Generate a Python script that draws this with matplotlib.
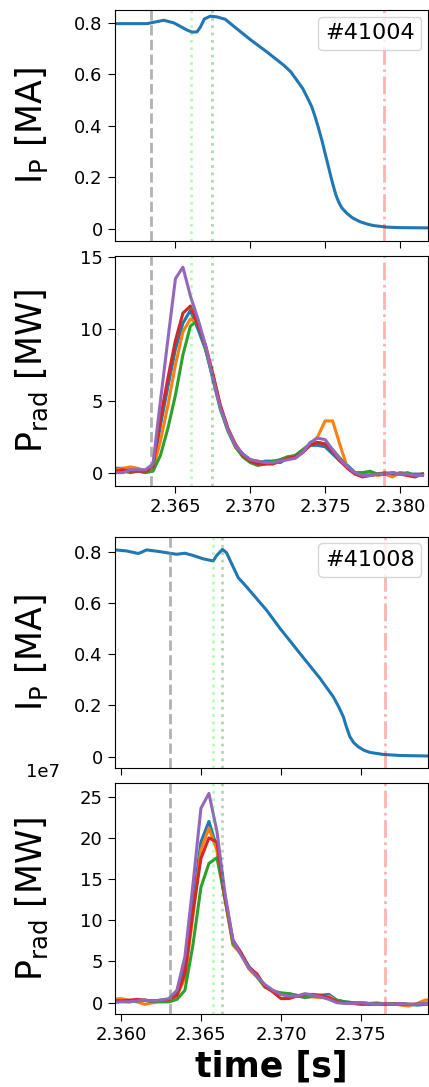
import numpy as np
import matplotlib
matplotlib.use('Agg')
from matplotlib import pyplot as plt
from matplotlib.lines import Line2D

plt.rcParams['font.family'] = ['DejaVu Sans']
plt.rcParams['mathtext.fontset'] = 'dejavusans'
plt.rcParams['mathtext.default'] = 'regular'

# ---------------- shot 41004 ----------------
ip_t_41004 = [2.36093, 2.36311, 2.36344, 2.36422, 2.36489, 2.36578, 2.36611, 2.36644,
              2.36667, 2.36693, 2.36733, 2.36778, 2.36833, 2.36889, 2.37000, 2.37111,
              2.37222, 2.37270, 2.37311, 2.37350, 2.37378, 2.37410, 2.37433, 2.37455,
              2.37478, 2.37500, 2.37522, 2.37540, 2.37556, 2.37572, 2.37589, 2.37610,
              2.37644, 2.37685, 2.37733, 2.37780, 2.37822, 2.37911, 2.38000, 2.38184]
ip_41004 = [0.797, 0.797, 0.801, 0.810, 0.800, 0.772, 0.764, 0.765,
            0.784, 0.815, 0.826, 0.823, 0.814, 0.787, 0.735, 0.687,
            0.636, 0.610, 0.577, 0.545, 0.513, 0.475, 0.435, 0.392,
            0.344, 0.292, 0.241, 0.198, 0.163, 0.131, 0.105, 0.082,
            0.060, 0.041, 0.027, 0.018, 0.012, 0.006, 0.004, 0.003]

prad_t0_41004 = 2.3610
prad_41004 = {
    'C0': [0.3, 0.3, 0.2, 0.2, 0.0, 0.3, 3.3, 6.0, 8.6, 10.4, 11.3, 10.0, 8.6, 6.6,
           4.6, 3.0, 1.9, 1.3, 0.9, 0.7, 0.8, 0.8, 0.7, 1.0, 1.1, 1.5, 1.9, 1.9,
           1.8, 1.3, 0.8, 0.5, 0.0, -0.1, -0.2, -0.1, -0.1, -0.2, 0.0, -0.1, -0.1, -0.1],
    'C1': [0.2, 0.3, 0.4, 0.3, 0.1, 0.2, 2.2, 4.7, 7.5, 9.8, 10.7, 10.4, 8.8, 6.8,
           4.6, 3.1, 1.8, 1.2, 0.9, 0.8, 0.7, 0.7, 0.9, 1.1, 1.0, 1.4, 2.0, 2.5,
           3.6, 3.6, 1.9, 0.3, -0.1, 0.0, 0.0, -0.2, -0.1, -0.3, 0.0, -0.1, -0.2, -0.1],
    'C2': [0.1, 0.1, 0.0, 0.1, 0.0, 0.1, 1.2, 3.1, 5.4, 8.2, 10.2, 10.6, 8.7, 6.5,
           4.4, 2.9, 1.8, 1.1, 0.7, 0.5, 0.6, 0.8, 0.9, 1.1, 1.2, 1.6, 2.0, 2.1,
           2.0, 1.6, 1.0, 0.4, 0.0, 0.0, 0.1, -0.1, 0.0, -0.1, -0.1, 0.0, -0.2, -0.1],
    'C3': [0.1, 0.2, 0.1, 0.1, 0.1, 0.4, 3.8, 6.6, 9.2, 11.1, 11.6, 10.3, 8.9, 6.9,
           4.7, 3.1, 2.0, 1.2, 0.8, 0.6, 0.6, 0.6, 0.8, 1.0, 1.1, 1.4, 1.9, 2.1,
           2.0, 1.5, 0.8, 0.3, -0.1, -0.3, -0.2, -0.1, -0.1, 0.0, -0.1, -0.2, -0.3, -0.1],
    'C4': [0.0, 0.0, 0.2, 0.2, 0.2, 0.6, 5.0, 9.3, 13.5, 14.3, 12.3, 10.7, 8.9, 6.6,
           4.5, 3.0, 1.9, 1.3, 0.9, 0.8, 0.7, 0.7, 0.8, 0.9, 1.0, 1.4, 2.1, 2.4,
           2.3, 1.6, 0.9, 0.4, 0.0, -0.2, -0.2, -0.1, -0.1, 0.0, -0.1, -0.1, -0.2, -0.2],
}
events_41004 = [2.3634, 2.36605, 2.36745, 2.37893]

# ---------------- shot 41008 ----------------
ip_t_41008 = [2.35963, 2.36035, 2.36108, 2.36129, 2.36160, 2.36223, 2.36306, 2.36348,
              2.36400, 2.36452, 2.36515, 2.36577, 2.36598, 2.36635, 2.36660, 2.36702,
              2.36733, 2.36785, 2.36910, 2.36994, 2.37119, 2.37244, 2.37327, 2.37360,
              2.37390, 2.37410, 2.37431, 2.37455, 2.37483, 2.37520, 2.37556, 2.37640,
              2.37744, 2.37917]
ip_41008 = [0.807, 0.803, 0.793, 0.798, 0.807, 0.802, 0.794, 0.790,
            0.794, 0.785, 0.772, 0.764, 0.785, 0.809, 0.796, 0.740,
            0.699, 0.663, 0.572, 0.501, 0.403, 0.306, 0.234, 0.196,
            0.156, 0.115, 0.078, 0.055, 0.039, 0.025, 0.017, 0.009,
            0.005, 0.003]

prad_t0_41008 = 2.3595
prad_41008 = {
    'C0': [0.2, 0.3, 0.2, 0.3, 0.3, 0.2, 0.3, 0.4, 1.2, 4.5, 12.0, 19.5, 22.0, 18.8,
           12.8, 7.3, 6.0, 4.4, 3.3, 2.0, 1.4, 1.1, 1.1, 0.9, 0.6, 0.8, 0.9, 1.0,
           0.3, 0.1, 0.0, -0.1, -0.1, -0.2, -0.1, -0.2, -0.2, -0.2, -0.3, -0.2, -0.2],
    'C1': [0.4, 0.5, 0.3, 0.1, -0.2, 0.0, 0.2, 0.3, 0.8, 3.0, 10.5, 18.5, 21.2, 18.5,
           12.6, 7.0, 5.9, 4.1, 3.1, 1.9, 1.5, 1.0, 0.9, 0.8, 0.7, 0.7, 0.6, 0.8,
           0.2, 0.0, -0.1, 0.0, -0.1, 0.0, -0.2, -0.1, -0.3, -0.4, -0.1, 0.3, 0.4],
    'C2': [0.3, 0.2, 0.1, 0.2, 0.3, 0.1, 0.1, 0.1, 0.4, 1.5, 7.0, 14.0, 16.9, 17.6,
           12.7, 7.2, 6.0, 4.2, 3.2, 1.9, 1.4, 1.2, 1.1, 0.8, 0.7, 0.8, 0.7, 0.5,
           0.3, 0.1, 0.0, 0.0, -0.1, -0.1, -0.1, -0.1, -0.2, -0.2, -0.2, -0.1, 0.0],
    'C3': [0.2, 0.2, 0.3, 0.4, 0.3, 0.2, 0.3, 0.4, 0.9, 3.5, 11.0, 17.5, 20.0, 19.5,
           12.8, 7.6, 6.1, 4.3, 3.5, 2.0, 1.3, 0.5, 0.5, 0.8, 1.0, 1.0, 0.9, 0.6,
           0.1, 0.0, -0.1, -0.2, -0.2, -0.2, -0.2, -0.2, -0.1, -0.2, -0.2, -0.1, -0.1],
    'C4': [0.0, 0.1, 0.1, 0.2, 0.3, 0.2, 0.3, 0.5, 1.5, 5.6, 14.3, 23.6, 25.4, 20.8,
           13.3, 7.6, 5.8, 4.2, 3.2, 2.2, 1.5, 1.0, 0.8, 0.8, 1.1, 0.9, 0.7, 0.4,
           0.0, -0.1, -0.1, 0.0, -0.1, -0.2, -0.1, -0.2, -0.1, -0.2, -0.2, -0.1, 0.0],
}
events_41008 = [2.36304, 2.36573, 2.36633, 2.3765]

dt = 0.0005

W, H = 429, 1087
fig = plt.figure(figsize=(W / 100, H / 100), dpi=100)


def box(left, top, right, bottom):
    return [left / W, 1 - bottom / H, (right - left) / W, (bottom - top) / H]


def mark_events(ax, ev):
    ax.axvline(ev[0], color='gray', alpha=0.6, ls='--', lw=2)
    ax.axvline(ev[1], color='lime', alpha=0.3, ls=':', lw=2)
    ax.axvline(ev[2], color='green', alpha=0.3, ls=':', lw=2)
    ax.axvline(ev[3], color='red', alpha=0.3, ls='-.', lw=2)


def shot_tag(ax, txt):
    ax.legend([Line2D([], [], ls='none')], [txt], loc='upper right', fontsize=16,
              handlelength=0, handletextpad=0, borderpad=0.3, borderaxespad=0.3)


def style(ax):
    ax.tick_params(labelsize=13, length=5)
    ax.yaxis.set_label_coords(-0.205, 0.5)


panels = [
    (ip_t_41004, ip_41004, prad_t0_41004, prad_41004, events_41004, '#41004',
     (2.36093, 2.38187), (-0.048, 0.85), (-0.93, 15.1), [0, 5, 10, 15],
     (10, 241), (255.7, 486)),
    (ip_t_41008, ip_41008, prad_t0_41008, prad_41008, events_41008, '#41008',
     (2.3596, 2.37919), (-0.045, 0.8585), (-1.41, 26.63), [0, 5, 10, 15, 20, 25],
     (536.7, 768.3), (783.3, 1014.3)),
]

for ip_t, ip, t0, prad, ev, tag, xlim, ip_lim, prad_lim, prad_ticks, b1, b2 in panels:
    ax1 = fig.add_axes(box(114.5, b1[0], 428, b1[1]))
    ax2 = fig.add_axes(box(114.5, b2[0], 428, b2[1]), sharex=ax1)

    ax1.plot(ip_t, ip, color='C0', lw=2.2)
    mark_events(ax1, ev)
    ax1.set_ylim(*ip_lim)
    ax1.set_yticks([0, 0.2, 0.4, 0.6, 0.8])
    ax1.set_yticklabels(['0', '0.2', '0.4', '0.6', '0.8'])
    ax1.set_ylabel(r'$I_P$ [MA]', fontsize=25)
    ax1.tick_params(labelbottom=False)
    shot_tag(ax1, tag)
    style(ax1)

    for c, vals in prad.items():
        t = t0 + dt * np.arange(len(vals))
        ax2.plot(t, vals, color=c, lw=2.2)
    mark_events(ax2, ev)
    ax2.set_ylim(*prad_lim)
    ax2.set_yticks(prad_ticks)
    ax2.set_ylabel(r'$P_{rad}$ [MW]', fontsize=25)
    ax2.set_xlim(*xlim)
    ax2.xaxis.set_major_locator(matplotlib.ticker.MultipleLocator(0.005))
    ax2.xaxis.set_major_formatter(matplotlib.ticker.FormatStrFormatter('%.3f'))
    style(ax2)
    last = ax2

last.set_xlabel('time [s]', fontsize=25, fontweight='bold')
fig.text(60 / W, 1 - 772 / H, '1e7', ha='right', va='center', fontsize=13)

fig.savefig('out.png', dpi=100)
